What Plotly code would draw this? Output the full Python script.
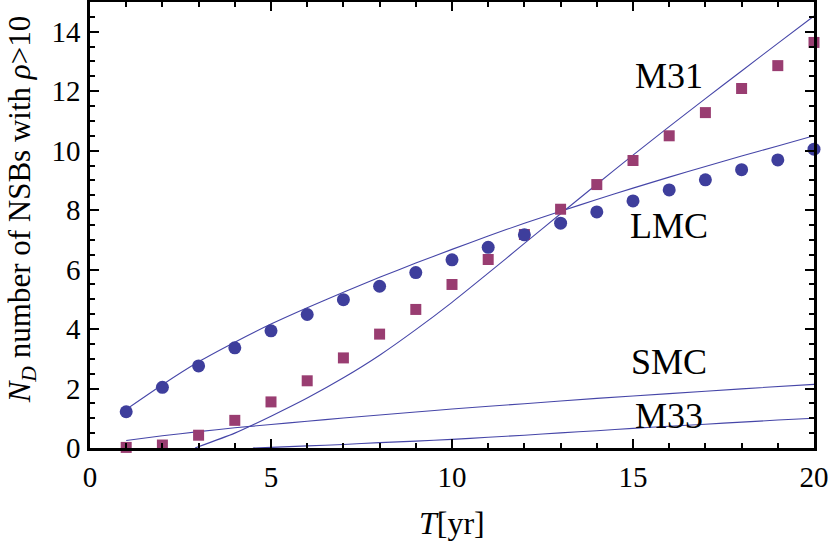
import plotly.graph_objects as go

# ---- data ----
T_points = list(range(1, 21))
circles = [1.22, 2.04, 2.76, 3.37, 3.94, 4.49, 4.99, 5.44, 5.90, 6.33,
           6.75, 7.17, 7.56, 7.94, 8.31, 8.68, 9.02, 9.36, 9.69, 10.05]
squares = [0.02, 0.10, 0.43, 0.93, 1.55, 2.26, 3.03, 3.83, 4.66, 5.50,
           6.34, 7.18, 8.03, 8.86, 9.67, 10.50, 11.28, 12.09, 12.86, 13.64]

lmc_T = list(range(1, 21))
lmc_fit = [1.30, 2.13, 2.90, 3.56, 4.17, 4.72, 5.24, 5.74, 6.22, 6.68,
           7.13, 7.56, 7.96, 8.36, 8.74, 9.11, 9.47, 9.82, 10.16, 10.50]

m31_T = [2.9, 4, 5, 6, 7, 8, 9, 10, 11, 12, 13, 14, 15, 16, 17, 18, 19, 20]
m31_fit = [0.0, 0.50, 1.07, 1.68, 2.36, 3.12, 3.98, 4.90, 5.88, 6.88,
           7.88, 8.87, 9.85, 10.81, 11.75, 12.68, 13.61, 14.53]

smc_T = [1, 2, 3, 4, 5, 6, 7, 8, 9, 10, 12, 14, 16, 18, 20]
smc_fit = [0.25, 0.41, 0.55, 0.68, 0.79, 0.90, 1.01, 1.11, 1.21, 1.31,
           1.49, 1.67, 1.83, 1.99, 2.14]

m33_T = [4.5, 5, 6, 7, 8, 9, 10, 11, 12, 13, 14, 15, 16, 17, 18, 19, 20]
m33_fit = [0.0, 0.02, 0.07, 0.12, 0.18, 0.23, 0.29, 0.36, 0.43, 0.51,
           0.58, 0.66, 0.73, 0.80, 0.87, 0.94, 1.00]

labels = ["M31", "LMC", "SMC", "M33"]
label_x = [16, 16, 16, 16]
label_y = [12.5, 7.47, 2.88, 1.06]

x_ticks = [0, 5, 10, 15, 20]
y_ticks = [0, 2, 4, 6, 8, 10, 12, 14]

LINE_COLOR = "#4646a8"
CIRCLE_COLOR = "#3e3e9c"
SQUARE_COLOR = "#993d71"
FONT = "Liberation Serif"

fig = go.Figure()

for tx, ty in [(lmc_T, lmc_fit), (m31_T, m31_fit), (smc_T, smc_fit), (m33_T, m33_fit)]:
    fig.add_trace(go.Scatter(x=tx, y=ty, mode="lines",
                             line=dict(color=LINE_COLOR, width=1.1, shape="spline", smoothing=0.6),
                             showlegend=False, hoverinfo="skip"))

fig.add_trace(go.Scatter(x=T_points, y=squares, mode="markers",
                         marker=dict(symbol="square", size=11, color=SQUARE_COLOR),
                         cliponaxis=False, showlegend=False))
fig.add_trace(go.Scatter(x=T_points, y=circles, mode="markers",
                         marker=dict(symbol="circle", size=13, color=CIRCLE_COLOR),
                         cliponaxis=False, showlegend=False))

for t, lx, ly in zip(labels, label_x, label_y):
    fig.add_annotation(x=lx, y=ly, text=t, showarrow=False, xanchor="center", yanchor="middle",
                       font=dict(family=FONT, size=36, color="black"))

# axis titles
fig.add_annotation(xref="paper", yref="paper", x=0.5, y=-0.168, yanchor="middle",
                   text="<i>T</i>[yr]", showarrow=False,
                   font=dict(family=FONT, size=32, color="black"))
fig.add_annotation(xref="paper", yref="paper", x=-0.094, y=0.535, xanchor="center", yanchor="middle",
                   text="<i>N</i><sub><i>D</i></sub> number of NSBs with <i>ρ</i>&gt;10", showarrow=False,
                   textangle=-90, font=dict(family=FONT, size=31, color="black"))

axis_common = dict(showgrid=False, zeroline=False, showline=True, linecolor="black", linewidth=2.5,
                   mirror="ticks", ticks="inside", ticklen=9, tickwidth=2, tickcolor="black",
                   tickfont=dict(family=FONT, size=29, color="black"))

fig.update_xaxes(range=[0, 20], tickvals=x_ticks, ticktext=[str(v) for v in x_ticks],
                 minor=dict(dtick=1, ticks="inside", ticklen=5, tickwidth=2, tickcolor="black"),
                 ticklabelstandoff=1, **axis_common)
fig.update_yaxes(range=[0, 15], tickvals=y_ticks, ticktext=[str(v) for v in y_ticks],
                 minor=dict(dtick=0.5, ticks="inside", ticklen=5, tickwidth=2, tickcolor="black"),
                 ticklabelstandoff=1, **axis_common)

fig.update_layout(width=830, height=543, margin=dict(l=90, r=16, t=2, b=95, autoexpand=False),
                  paper_bgcolor="white", plot_bgcolor="white", showlegend=False)

fig.write_html("out.html", config={"displayModeBar": False},
               post_script="document.body.style.margin='0px';document.body.style.overflow='hidden';")
